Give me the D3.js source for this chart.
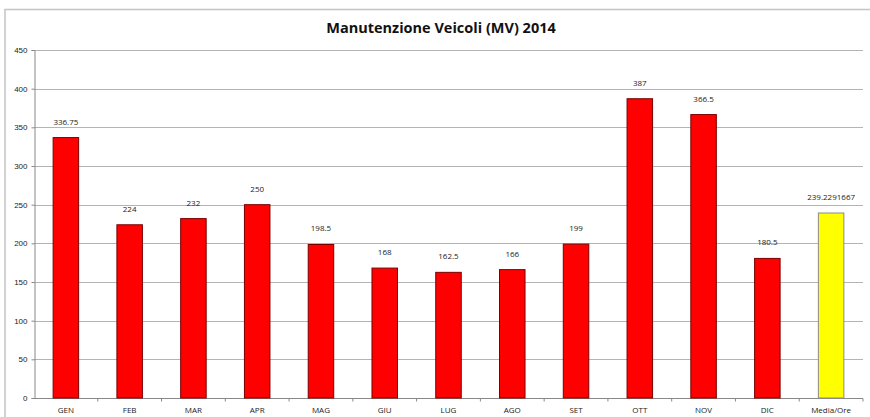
<!DOCTYPE html>
<html>
<head>
<meta charset="utf-8">
<script src="https://cdn.jsdelivr.net/npm/d3@7"></script>
<style>
  body { margin: 0; background: #fff; }
  svg { display: block; font-family: "Open Sans", "Liberation Sans", sans-serif; }
  .tick text { fill: #222; }
</style>
</head>
<body>
<div id="chart"></div>
<script>
const months = ['GEN', 'FEB', 'MAR', 'APR', 'MAG', 'GIU', 'LUG', 'AGO', 'SET', 'OTT', 'NOV', 'DIC', 'Media/Ore'];
const hours = [336.75, 224, 232, 250, 198.5, 168, 162.5, 166, 199, 387, 366.5, 180.5, 239.2291667];
const yTicks = [0, 50, 100, 150, 200, 250, 300, 350, 400, 450];

const width = 870, height = 417;
const margin = { top: 50, right: 7, bottom: 19, left: 34 };
const innerW = width - margin.left - margin.right;
const innerH = height - margin.top - margin.bottom;

const svg = d3.select('#chart').append('svg')
  .attr('width', width).attr('height', height);

// chart frame
svg.append('rect')
  .attr('x', 5).attr('y', 9.5)
  .attr('width', width + 10).attr('height', height + 10)
  .attr('fill', 'none').attr('stroke', '#c4c4c4').attr('stroke-width', 1.5);

svg.append('text')
  .attr('x', 441).attr('y', 32.5)
  .attr('text-anchor', 'middle')
  .attr('font-size', 14.5).attr('font-weight', 'bold')
  .attr('fill', '#111')
  .text('Manutenzione Veicoli (MV) 2014');

const g = svg.append('g').attr('transform', `translate(${margin.left},${margin.top})`);

const x = d3.scaleBand().domain(months).range([0, innerW]).paddingInner(0.6).paddingOuter(0.3);
const xTickScale = d3.scaleLinear().domain([0, months.length]).range([0, innerW]);
const y = d3.scaleLinear().domain([0, 450]).range([innerH, 0]);

// gridlines
g.append('g')
  .selectAll('line')
  .data(yTicks.slice(1))
  .join('line')
  .attr('x1', 0).attr('x2', innerW)
  .attr('y1', d => Math.round(y(d)) + 0.5).attr('y2', d => Math.round(y(d)) + 0.5)
  .attr('stroke', '#b4b4b4');

// y axis
const yAxis = g.append('g')
  .attr('transform', 'translate(0.5,0)')
  .call(d3.axisLeft(y).tickValues(yTicks).tickSize(3).tickPadding(4));
yAxis.selectAll('text').attr('font-size', 8);
yAxis.selectAll('line, path').attr('stroke', '#888');

// x axis with tick marks between categories
const xAxis = g.append('g')
  .attr('transform', `translate(0,${Math.round(innerH) + 0.5})`);
xAxis.append('line').attr('x1', 0).attr('x2', innerW).attr('stroke', '#888');
xAxis.selectAll('.sep')
  .data(d3.range(1, months.length + 1))
  .join('line')
  .attr('class', 'sep')
  .attr('x1', d => xTickScale(d)).attr('x2', d => xTickScale(d))
  .attr('y1', 0).attr('y2', 3)
  .attr('stroke', '#888');
xAxis.selectAll('text')
  .data(months)
  .join('text')
  .attr('x', d => x(d) + x.bandwidth() / 2)
  .attr('y', 14)
  .attr('text-anchor', 'middle')
  .attr('font-size', 8)
  .attr('fill', '#222')
  .text(d => d);

// bars
const rows = months.map((m, i) => ({ m, v: hours[i], avg: i === months.length - 1 }));
g.append('g')
  .selectAll('rect')
  .data(rows)
  .join('rect')
  .attr('x', d => x(d.m))
  .attr('y', d => y(d.v))
  .attr('width', x.bandwidth())
  .attr('height', d => innerH - y(d.v))
  .attr('fill', d => d.avg ? '#ffff00' : '#ff0000')
  .attr('stroke', d => d.avg ? '#8a8a8a' : '#7a0000')
  .attr('stroke-width', 1);

// value labels
g.append('g')
  .selectAll('text')
  .data(rows)
  .join('text')
  .attr('x', d => x(d.m) + x.bandwidth() / 2)
  .attr('y', d => y(d.v) - 13)
  .attr('text-anchor', 'middle')
  .attr('font-size', 8)
  .attr('fill', '#222')
  .text(d => d.v);
</script>
</body>
</html>
